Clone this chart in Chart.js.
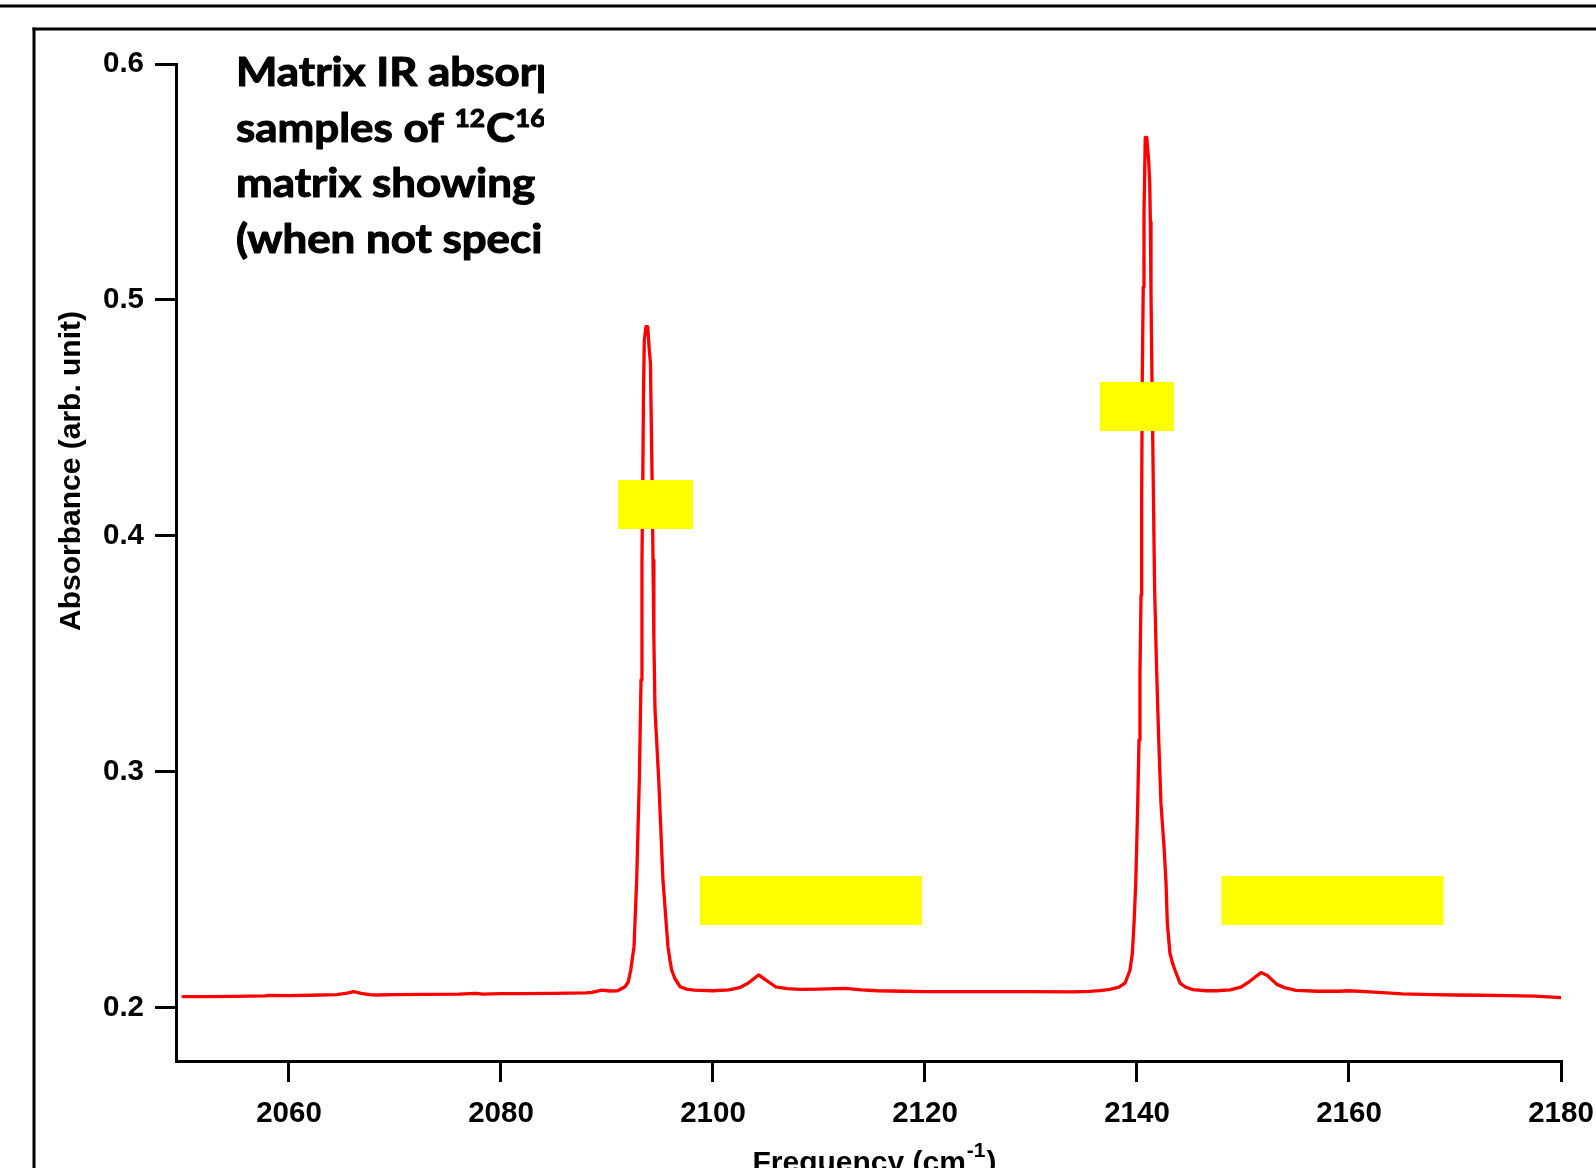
<!DOCTYPE html>
<html><head><meta charset="utf-8">
<script src="https://cdn.jsdelivr.net/npm/chart.js@4.4.1/dist/chart.umd.min.js"></script>
<style>html,body{margin:0;padding:0;background:#fff;overflow:hidden}canvas{display:block}</style>
</head><body>
<canvas id="c" width="1596" height="1168"></canvas>
<script>
// ---- data ----
const frequency = [
 2050.0,2052.0,2055.0,2057.7,2058.2,2060.0,2062.0,2064.5,2065.5,2066.1,2066.8,2067.6,2068.3,2070.0,2073.0,2076.0,2077.6,2078.3,2080.0,2082.0,2085.0,2088.0,2088.6,2089.5,2090.3,2091.0,2091.7,2092.0,
 2092.24,2092.55,2092.8,2093.05,2093.21,2093.3,2093.38,2093.44,2093.52,2093.68,2093.84,2094.0,2094.1,2094.16,2094.25,2094.34,2094.42,2094.53,2094.88,2095.28,2095.75,2095.95,2096.1,2096.4,2096.9,2097.5,2098.2,
 2100.0,2101.5,2102.5,2103.3,2104.3,2105.0,2105.9,2107.0,2108.2,2110.0,2112.5,2114.0,2115.5,2118.0,2120.0,2125.0,2130.0,2134.0,2135.5,2136.5,2137.45,2138.3,2138.87,
 2139.34,2139.56,2139.72,2139.88,2139.97,2140.07,2140.19,2140.28,2140.38,2140.44,2140.5,2140.59,2140.66,2140.78,2140.92,2141.1,2141.2,2141.26,2141.32,2141.39,2141.48,2141.57,2141.66,2141.86,2142.05,2142.26,2142.55,2142.74,2142.86,2143.11,2143.35,2143.58,2144.06,2144.6,2145.28,
 2146.5,2147.5,2148.8,2149.8,2150.6,2151.7,2152.3,2153.2,2154.0,2155.0,2157.0,2159.0,2160.0,2162.0,2165.0,2168.0,2170.0,2172.5,2175.0,2177.5,2180.0
];
const absorbance = [
 0.2048,0.2048,0.2049,0.2051,0.2053,0.2052,0.2054,0.2057,0.2063,0.2069,0.2062,0.2057,0.2055,0.2057,0.2058,0.2059,0.2062,0.2059,0.2061,0.2061,0.2062,0.2064,0.2066,0.2076,0.2072,0.2073,0.2090,0.2110,
 0.2161,0.2260,0.2542,0.2966,0.3390,0.3898,0.4250,0.4597,0.4830,0.4887,0.4887,0.4780,0.4733,0.4534,0.4250,0.3898,0.3570,0.3263,0.2966,0.2542,0.2260,0.2200,0.2161,0.2125,0.2090,0.2080,0.2076,
 0.2073,0.2077,0.2086,0.2105,0.2140,0.2118,0.2090,0.2082,0.2079,0.2080,0.2083,0.2077,0.2073,0.2071,0.2069,0.2069,0.2069,0.2068,0.2070,0.2074,0.2079,0.2088,0.2105,
 0.2161,0.2232,0.2359,0.2528,0.2684,0.2867,0.3136,0.3418,0.3750,0.4153,0.4689,0.5056,0.5367,0.5689,0.5689,0.5593,0.5494,0.5332,0.5035,0.4746,0.4428,0.4096,0.3780,0.3418,0.3136,0.2867,0.2684,0.2528,0.2359,0.2232,0.2190,0.2161,0.2105,0.2088,0.2078,
 0.2073,0.2073,0.2077,0.2088,0.2112,0.2150,0.2138,0.2100,0.2085,0.2075,0.2071,0.2071,0.2073,0.2068,0.2060,0.2057,0.2055,0.2054,0.2052,0.2050,0.2044
];
const xTickValues = [2060, 2080, 2100, 2120, 2140, 2160, 2180];
const yTickValues = [0.2, 0.3, 0.4, 0.5, 0.6];
const xRange = [2049.34, 2180];
const yRange = [0.17754, 0.6];
// yellow cover boxes, in data units
const boxFrom = [2091.04, 2136.51, 2098.77, 2147.97];
const boxTo   = [2098.11, 2143.49, 2119.72, 2168.92];
const boxLow  = [0.4030, 0.4445, 0.2352, 0.2352];
const boxHigh = [0.4237, 0.4653, 0.2559, 0.2559];
// texts
const yTitle = 'Absorbance (arb. unit)';
const xTitle = ['Frequency (cm', '-1', ')'];
const noteLines = [
  [['Matrix IR absorp', false]],
  [['samples of ', false], ['12', true], ['C', false], ['16', true]],
  [['matrix showing', false]],
  [['(when not speci', false]]
];

const decor = {
  id: 'decor',
  beforeDraw(chart) {
    const ctx = chart.ctx, W = chart.width, H = chart.height;
    ctx.save();
    ctx.fillStyle = '#fff'; ctx.fillRect(0, 0, W, H);
    ctx.fillStyle = '#000';
    ctx.fillRect(0, 4.5, W, 3);
    ctx.fillRect(32.5, 27.5, 3, H);
    ctx.fillRect(32.5, 27.5, W, 3);
    ctx.restore();
  },
  afterDatasetsDraw(chart) {
    const ctx = chart.ctx, xs = chart.scales.x, ys = chart.scales.y;
    ctx.save();
    ctx.fillStyle = '#ffff00';
    for (let i = 0; i < boxFrom.length; i++) {
      const x0 = xs.getPixelForValue(boxFrom[i]), x1 = xs.getPixelForValue(boxTo[i]);
      const y0 = ys.getPixelForValue(boxHigh[i]), y1 = ys.getPixelForValue(boxLow[i]);
      ctx.fillRect(x0, y0, x1 - x0, y1 - y0);
    }
    ctx.restore();
  },
  afterDraw(chart) {
    const ctx = chart.ctx, ca = chart.chartArea;
    ctx.save();
    ctx.fillStyle = '#000'; ctx.strokeStyle = '#000';
    // y title
    ctx.font = 'bold 30px "Liberation Sans", Arial, sans-serif';
    ctx.textAlign = 'center'; ctx.textBaseline = 'middle';
    ctx.save(); ctx.translate(72, 471); ctx.rotate(-Math.PI / 2); ctx.fillText(yTitle, 0, 0); ctx.restore();
    // x title with superscript
    ctx.textAlign = 'left'; ctx.textBaseline = 'alphabetic';
    const fMain = 'bold 30px "Liberation Sans", Arial, sans-serif', fSup = 'bold 21px "Liberation Sans", Arial, sans-serif';
    ctx.font = fMain; const w0 = ctx.measureText(xTitle[0]).width, w2 = ctx.measureText(xTitle[2]).width;
    ctx.font = fSup; const w1 = ctx.measureText(xTitle[1]).width;
    let x = (ca.left + ca.right) / 2 + 5 - (w0 + w1 + w2) / 2;
    const base = 1172;
    ctx.font = fMain; ctx.fillText(xTitle[0], x, base); x += w0 + 1;
    ctx.font = fSup; ctx.fillText(xTitle[1], x, base - 15); x += w1 + 1;
    ctx.font = fMain; ctx.fillText(xTitle[2], x, base);
    // note text, clipped
    ctx.beginPath(); ctx.rect(0, 0, 544, chart.height); ctx.clip();
    const fN = 'bold 40px Lato, "Open Sans", sans-serif', fNs = 'bold 24px Lato, "Open Sans", sans-serif';
    ctx.font = fN;
    const sx = 300 / ctx.measureText('Matrix IR absor').width;
    const baselines = [86, 141.5, 197, 252.5];
    ctx.lineWidth = 1.1; ctx.lineJoin = 'round';
    noteLines.forEach((segs, li) => {
      ctx.save(); ctx.translate(236, baselines[li]); ctx.scale(sx, 1);
      let px = 0;
      segs.forEach(([t, sup]) => {
        ctx.font = sup ? fNs : fN;
        const yy = sup ? -15 : 0;
        ctx.fillText(t, px, yy);
        ctx.strokeText(t, px, yy);
        px += ctx.measureText(t).width + (sup ? 1 : 0);
      });
      ctx.restore();
    });
    ctx.restore();
  }
};

const tickFont = { family: '"Liberation Sans", Arial, sans-serif', size: 29.5, weight: 'bold' };
new Chart(document.getElementById('c'), {
  type: 'line',
  data: { datasets: [{
    data: frequency.map((f, i) => ({ x: f, y: absorbance[i] })),
    borderColor: '#ff0000', borderWidth: 3.3, pointRadius: 0, tension: 0, fill: false,
    borderJoinStyle: 'round', borderCapStyle: 'round'
  }]},
  options: {
    responsive: false, animation: false, devicePixelRatio: 1,
    layout: { padding: { left: 0, top: 64, right: 35, bottom: 0 } },
    plugins: { legend: { display: false }, tooltip: { enabled: false }, title: { display: false } },
    scales: {
      x: {
        type: 'linear', min: xRange[0], max: xRange[1],
        afterBuildTicks: s => { s.ticks = xTickValues.map(v => ({ value: v })); },
        afterFit: s => { s.height = 107; s.paddingLeft = 0; s.paddingRight = 0; },
        grid: { display: true, drawOnChartArea: false, drawTicks: true, tickLength: 21, color: '#000', lineWidth: 3 },
        border: { display: true, color: '#000', width: 3 },
        ticks: { font: tickFont, color: '#000', padding: 14, maxRotation: 0, autoSkip: false, callback: v => String(v) }
      },
      y: {
        type: 'linear', min: yRange[0], max: yRange[1],
        afterBuildTicks: s => { s.ticks = yTickValues.map(v => ({ value: v })); },
        afterFit: s => { s.width = 176; s.paddingTop = 0; s.paddingBottom = 0; },
        grid: { display: true, drawOnChartArea: false, drawTicks: true, tickLength: 21, color: '#000', lineWidth: 3 },
        border: { display: true, color: '#000', width: 3 },
        ticks: { font: tickFont, color: '#000', padding: 11, autoSkip: false, callback: v => v.toFixed(1) }
      }
    }
  },
  plugins: [decor]
});
</script>
</body></html>
